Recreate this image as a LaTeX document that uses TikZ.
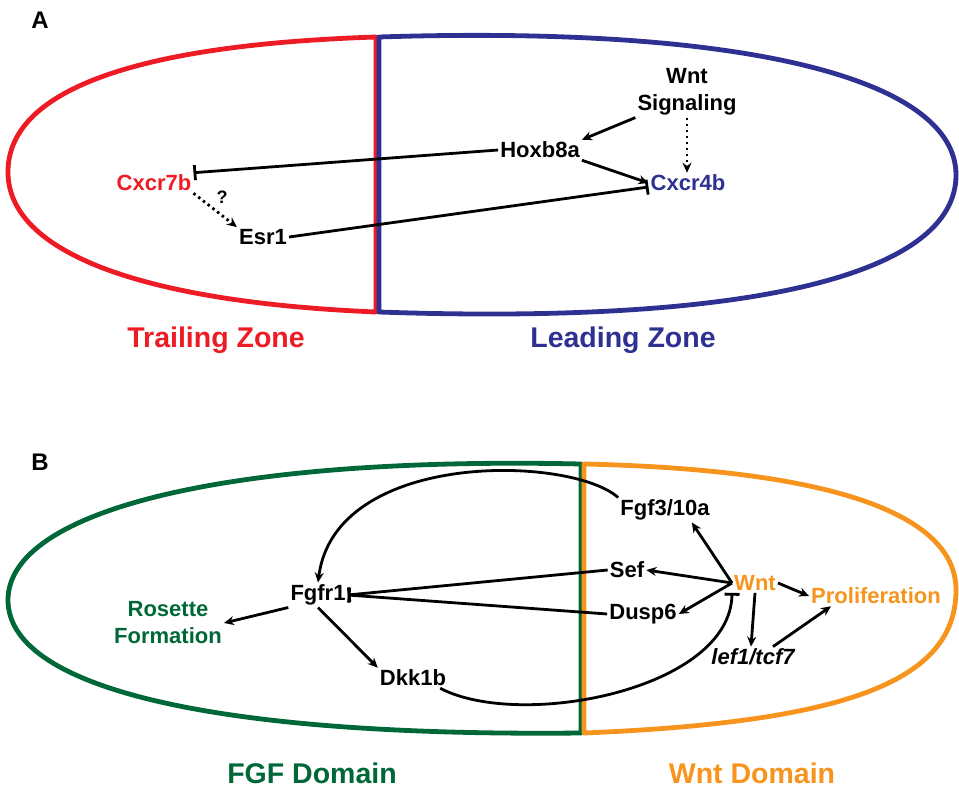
\documentclass[tikz,border=0pt]{standalone}
\usepackage{fontspec}
\setmainfont{Liberation Sans}
\usetikzlibrary{arrows.meta,positioning}
\definecolor{trailred}{RGB}{237,28,36}
\definecolor{leadblue}{RGB}{46,49,146}
\definecolor{fgfgreen}{RGB}{0,104,56}
\definecolor{wntorange}{RGB}{247,148,29}

\begin{document}
\begin{tikzpicture}[x=1pt, y=-1pt,
  >={Stealth[length=10pt,width=9pt]},
  every node/.append style={align=center, font=\fontsize{22}{27}\selectfont\bfseries},
  gene/.style={inner sep=2pt},
  zone/.style={font=\fontsize{28.5}{32}\selectfont\bfseries},
  panel/.style={font=\fontsize{24}{28}\selectfont\bfseries},
  link/.style={line width=2.8pt},
  hint/.style={line width=2.8pt, dash pattern=on 2.5pt off 3.5pt},
  blocks/.style={-{Bar[width=15pt]}},
  rim/.style={line width=4.8pt, line join=round}]
 \useasboundingbox (0,0) rectangle (959,792);

 % A: trailing / leading zone
 \node[panel] (A) at (40,20) {A};
 \draw[rim, trailred] (376,37) .. controls (130,45) and (8,92) .. (8,172)
   .. controls (8,252) and (140,302) .. (376,312) -- cycle;
 \draw[rim, leadblue] (379,37) .. controls (750,25) and (956,80) .. (956,175)
   .. controls (956,275) and (750,325) .. (379,312) -- cycle;

 \node[gene] (wntsig) at (687,92) {Wnt\\Signaling};
 \node[gene] (hox) at (540,150) {Hoxb8a};
 \node[gene, text=trailred] (cxcr7) at (154,183) {Cxcr7b};
 \node[gene, text=leadblue] (cxcr4) at (688,183) {Cxcr4b};
 \node[gene] (esr) at (263,237) {Esr1};
 \node[zone, text=trailred] (trail) at (216,340) {Trailing Zone};
 \node[zone, text=leadblue] (lead) at (623,340) {Leading Zone};

 \path[link,->] (wntsig.south west) edge (hox.north east)
                (hox.south east) edge (cxcr4.west)
                (hox.west) edge[blocks] (cxcr7.north east)
                (esr.east) edge[blocks] ([yshift=-4pt]cxcr4.west);
 \path[hint,->] (wntsig.south) edge ([xshift=-1pt]cxcr4.north)
                (cxcr7.south east) edge node[pos=0.4, above right=-1pt and 1pt, font=\fontsize{18}{20}\selectfont\bfseries] (q) {?} (esr.north west);

 % B: FGF / Wnt domain
 \node[panel] (B) at (40,462) {B};
 \draw[rim, fgfgreen] (581,464) .. controls (220,456) and (8,512) .. (8,600)
   .. controls (8,685) and (200,737) .. (581,733) -- cycle;
 \draw[rim, wntorange] (584,464) .. controls (850,470) and (956,520) .. (956,590)
   .. controls (956,680) and (850,722) .. (584,733) -- cycle;

 \node[gene] (fgf) at (665,510) {Fgf3/10a};
 \node[gene] (sef) at (627,570) {Sef};
 \node[gene, text=wntorange] (wnt) at (755,583) {Wnt};
 \node[gene, text=wntorange] (prolif) at (876,596) {Proliferation};
 \node[gene] (fgfr) at (318,595) {Fgfr1};
 \node[gene] (dusp) at (643,614) {Dusp6};
 \node[gene, text=fgfgreen] (rosette) at (168,623) {Rosette\\Formation};
 \node[gene] (dkk) at (413,678) {Dkk1b};
 \node[gene, font=\fontsize{22}{27}\selectfont\bfseries\itshape] (lef) at (753,657) {lef1/tcf7};
 \node[zone, text=fgfgreen] (fgfdom) at (312,773) {FGF Domain};
 \node[zone, text=wntorange] (wntdom) at (752,773) {Wnt Domain};

 \path[link,->] (wnt.west) edge ([xshift=-20pt]fgf.south east)
                (wnt.west) edge (sef.east)
                (wnt.west) edge (dusp.east)
                (wnt.east) edge (prolif.west)
                (wnt.south) edge ([xshift=-2pt]lef.north)
                ([xshift=20pt]lef.north) edge ([xshift=-45pt]prolif.south)
                (fgfr.south west) edge (rosette.east)
                (fgfr.south) edge (dkk.north west)
                (sef.west) edge[blocks] (fgfr.east)
                (dusp.west) edge[blocks] (fgfr.east);
 \draw[link,->] (fgf.north west) .. controls (570,455) and (335,450) .. (fgfr.north);
 \draw[link,blocks] ([xshift=-8pt]dkk.south east) .. controls (520,730) and (730,690) .. (wnt.south west);
\end{tikzpicture}
\end{document}
